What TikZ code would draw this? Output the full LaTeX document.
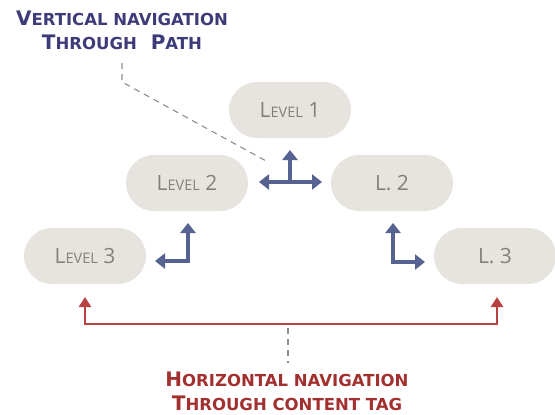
\documentclass[tikz,border=0pt]{standalone}
\usepackage{fontspec}
\setmainfont{Open Sans}
\newfontfamily\headfont{DejaVu Sans}
\usetikzlibrary{arrows.meta,positioning}
\definecolor{pillgray}{HTML}{E7E3DF}
\definecolor{pilltext}{HTML}{857F7A}
\definecolor{navblue}{HTML}{56628F}
\definecolor{navtitle}{HTML}{3D3B78}
\definecolor{navred}{HTML}{B8423F}
\definecolor{redtitle}{HTML}{A2302E}
\definecolor{dashgray}{HTML}{8C8C8C}
\newcommand{\titlesc}{\fontsize{16.5}{24}\selectfont}
\newcommand{\levelsc}{\fontsize{14.5}{18}\selectfont}
\tikzset{
  pill/.style={fill=pillgray, rounded corners=28pt, minimum width=122pt,
    minimum height=56pt, text=pilltext, font=\fontsize{21}{24}\selectfont},
  vtitle/.style={text=navtitle, font=\headfont\bfseries\fontsize{20}{24}\selectfont,
    align=center, inner sep=0pt, anchor=north},
  htitle/.style={text=redtitle, font=\headfont\bfseries\fontsize{20}{24}\selectfont,
    align=center, inner sep=0pt, anchor=north},
  varrow/.style={navblue, line width=3.2pt, {Triangle[length=10pt,width=15pt]}-{Triangle[length=10pt,width=15pt]}},
  varrowend/.style={navblue, line width=3.2pt, -{Triangle[length=10pt,width=15pt]}},
  harrow/.style={navred, line width=2.8pt, {Triangle[length=10pt,width=12pt]}-{Triangle[length=10pt,width=12pt]}},
  guide/.style={dashgray, line width=1.1pt, dash pattern=on 6pt off 5pt}
}
\begin{document}
\begin{tikzpicture}[x=1pt,y=-1pt]
\useasboundingbox (0,0) rectangle (555,415);
% levels of the path
\node[pill] (lvA) at (290,110) {L{\levelsc EVEL} 1};
\node[pill] (lvB) at (187,183) {L{\levelsc EVEL} 2};
\node[pill] (lrB) at (392,183) {L. 2};
\node[pill] (lvC) at (85,256) {L{\levelsc EVEL} 3};
\node[pill] (lrC) at (495,256) {L. 3};
% titles
\node[vtitle] (vert) at (122,11) {V{\titlesc ERTICAL NAVIGATION}\\T{\titlesc HROUGH}\ \ P{\titlesc ATH}};
\node[htitle] (horiz) at (287,372) {H{\titlesc ORIZONTAL NAVIGATION}\\T{\titlesc HROUGH CONTENT TAG}};
% free ends of the arrows
\coordinate (crossL) at (259,182);
\coordinate (crossR) at (322,182);
\coordinate (crossC) at (290,182);
\coordinate (crossU) at (290,150);
\coordinate (elbLU) at (188,223);
\coordinate (elbLL) at (155,261);
\coordinate (elbRU) at (393,223);
\coordinate (elbRR) at (425,262);
\coordinate (tagL) at (85,297);
\coordinate (tagR) at (497,297);
\coordinate (tagM) at (288,328);
\coordinate (hguide) at (288,363);
\coordinate (vguide) at (122,63);
\coordinate (vbend) at (122,82);
\coordinate (vend) at (268,162);
% vertical navigation
\draw[varrow] (crossL) -- (crossR);
\draw[varrowend] (crossC) -- (crossU);
\draw[varrow] (elbLU) |- (elbLL);
\draw[varrow] (elbRU) |- (elbRR);
% horizontal navigation
\draw[harrow] (tagL) -- (85,324) -- (497,324) -- (tagR);
% guides to the titles
\draw[guide] (vguide) -- (vbend) -- (vend);
\draw[guide] (tagM) -- (hguide);
\end{tikzpicture}
\end{document}
